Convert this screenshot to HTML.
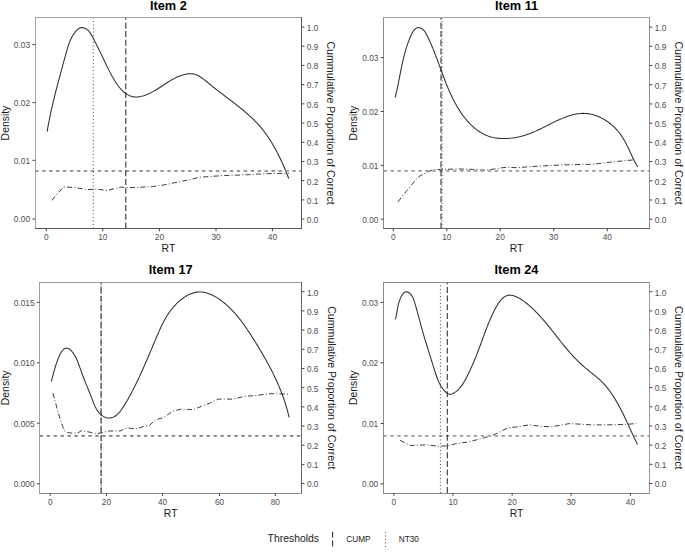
<!DOCTYPE html>
<html><head><meta charset="utf-8"><title>RT density plots</title>
<style>
html,body{margin:0;padding:0;background:#fff;width:685px;height:552px;overflow:hidden}
svg text{font-family:"Liberation Sans", sans-serif}
</style></head>
<body>
<svg width="685" height="552" viewBox="0 0 685 552" style="display:block">
<rect width="685" height="552" fill="#fff"/>
<path d="M47.16,131.55 L47.40,130.14 L47.64,128.74 L47.88,127.34 L48.14,125.94 L48.39,124.54 L48.65,123.15 L48.92,121.76 L49.19,120.37 L49.47,118.98 L49.75,117.60 L50.03,116.21 L50.32,114.83 L50.61,113.45 L50.91,112.08 L51.21,110.70 L51.51,109.33 L51.82,107.96 L52.13,106.59 L52.44,105.22 L52.76,103.85 L53.08,102.49 L53.41,101.12 L53.73,99.76 L54.07,98.40 L54.40,97.04 L54.74,95.68 L55.07,94.32 L55.42,92.96 L55.76,91.60 L56.11,90.24 L56.46,88.89 L56.81,87.53 L57.16,86.17 L57.52,84.81 L57.87,83.46 L58.23,82.10 L58.59,80.74 L58.96,79.39 L59.32,78.03 L59.69,76.67 L60.05,75.31 L60.42,73.96 L60.79,72.60 L61.16,71.24 L61.53,69.88 L61.90,68.52 L62.28,67.15 L62.65,65.79 L63.02,64.42 L63.40,63.06 L63.77,61.69 L64.15,60.32 L64.52,58.95 L64.90,57.58 L65.27,56.21 L65.65,54.83 L66.03,53.46 L66.40,52.08 L66.78,50.70 L67.18,49.33 L67.58,47.96 L68.00,46.60 L68.44,45.25 L68.90,43.91 L69.39,42.59 L69.90,41.28 L70.45,39.99 L71.04,38.71 L71.66,37.46 L72.33,36.24 L73.05,35.03 L73.81,33.86 L74.63,32.71 L75.50,31.60 L76.44,30.53 L77.44,29.55 L78.50,28.70 L79.63,28.05 L80.83,27.64 L82.09,27.53 L83.40,27.72 L84.70,28.16 L85.93,28.78 L87.06,29.56 L88.10,30.48 L89.06,31.51 L89.95,32.63 L90.78,33.84 L91.56,35.11 L92.30,36.43 L93.01,37.77 L93.69,39.12 L94.37,40.46 L95.03,41.78 L95.70,43.09 L96.35,44.38 L97.00,45.65 L97.64,46.92 L98.27,48.17 L98.89,49.42 L99.51,50.66 L100.11,51.90 L100.71,53.13 L101.30,54.36 L101.88,55.59 L102.47,56.82 L103.04,58.04 L103.62,59.27 L104.20,60.49 L104.78,61.72 L105.36,62.95 L105.95,64.18 L106.54,65.41 L107.14,66.64 L107.75,67.88 L108.37,69.12 L109.00,70.37 L109.65,71.62 L110.31,72.88 L110.98,74.15 L111.67,75.42 L112.38,76.70 L113.11,77.98 L113.86,79.26 L114.63,80.54 L115.43,81.80 L116.24,83.04 L117.08,84.26 L117.94,85.46 L118.82,86.62 L119.73,87.75 L120.66,88.84 L121.62,89.88 L122.61,90.87 L123.62,91.80 L124.66,92.67 L125.73,93.48 L126.83,94.21 L127.96,94.87 L129.12,95.45 L130.31,95.94 L131.53,96.35 L132.79,96.66 L134.08,96.87 L135.40,96.97 L136.76,96.97 L138.14,96.87 L139.54,96.68 L140.96,96.40 L142.39,96.05 L143.82,95.63 L145.24,95.15 L146.66,94.61 L148.06,94.03 L149.44,93.42 L150.79,92.77 L152.10,92.10 L153.38,91.41 L154.63,90.71 L155.86,90.00 L157.05,89.27 L158.23,88.53 L159.39,87.79 L160.54,87.04 L161.67,86.29 L162.80,85.53 L163.93,84.78 L165.06,84.03 L166.19,83.28 L167.33,82.54 L168.48,81.81 L169.64,81.09 L170.82,80.38 L172.02,79.68 L173.25,79.01 L174.51,78.35 L175.80,77.71 L177.12,77.10 L178.46,76.52 L179.83,75.97 L181.21,75.48 L182.60,75.03 L184.00,74.64 L185.40,74.31 L186.80,74.06 L188.18,73.88 L189.56,73.78 L190.92,73.78 L192.26,73.87 L193.57,74.06 L194.86,74.35 L196.11,74.75 L197.33,75.25 L198.53,75.83 L199.71,76.49 L200.86,77.22 L202.01,78.00 L203.14,78.83 L204.25,79.70 L205.37,80.59 L206.48,81.51 L207.58,82.43 L208.69,83.36 L209.81,84.28 L210.93,85.19 L212.05,86.10 L213.17,87.00 L214.30,87.89 L215.43,88.78 L216.57,89.66 L217.70,90.54 L218.84,91.42 L219.98,92.29 L221.12,93.16 L222.26,94.02 L223.40,94.88 L224.54,95.75 L225.67,96.61 L226.81,97.46 L227.95,98.32 L229.08,99.18 L230.21,100.04 L231.34,100.90 L232.47,101.76 L233.59,102.62 L234.71,103.49 L235.83,104.35 L236.94,105.22 L238.05,106.09 L239.15,106.97 L240.25,107.85 L241.34,108.73 L242.42,109.62 L243.50,110.52 L244.57,111.42 L245.64,112.33 L246.69,113.24 L247.74,114.16 L248.78,115.09 L249.81,116.03 L250.83,116.98 L251.85,117.93 L252.85,118.90 L253.84,119.87 L254.82,120.85 L255.79,121.85 L256.75,122.85 L257.70,123.87 L258.64,124.90 L259.56,125.94 L260.47,126.99 L261.37,128.06 L262.25,129.14 L263.12,130.23 L263.98,131.34 L264.83,132.46 L265.66,133.58 L266.48,134.72 L267.29,135.87 L268.09,137.04 L268.87,138.21 L269.65,139.39 L270.41,140.58 L271.16,141.77 L271.90,142.98 L272.63,144.20 L273.34,145.42 L274.05,146.65 L274.75,147.88 L275.43,149.13 L276.11,150.37 L276.77,151.63 L277.43,152.89 L278.08,154.15 L278.71,155.42 L279.34,156.69 L279.96,157.97 L280.57,159.25 L281.17,160.53 L281.76,161.82 L282.34,163.11 L282.92,164.40 L283.48,165.69 L284.04,166.98 L284.59,168.27 L285.14,169.56 L285.67,170.85 L286.20,172.14 L286.72,173.43 L287.24,174.72 L287.75,176.01 L288.25,177.29 L288.74,178.58" fill="none" stroke="#2e2e2e" stroke-width="1.05" stroke-linejoin="round"/>
<path d="M51.80,200.40 L57.50,193.60 L63.60,187.00 L69.00,187.20 L75.50,187.60 L81.00,188.60 L87.30,189.60 L92.00,189.30 L97.20,189.00 L102.00,189.80 L107.00,190.50 L114.00,188.80 L120.80,187.20 L126.50,187.40 L132.60,187.60 L142.00,187.10 L152.30,186.60 L158.50,185.60 L165.00,184.80 L171.00,183.50 L177.80,182.00 L183.00,181.00 L188.50,179.90 L194.00,178.60 L199.20,177.30 L210.00,176.50 L222.70,175.60 L235.00,175.20 L246.20,174.80 L256.00,174.20 L265.40,173.70 L277.00,173.50 L289.00,173.30" stroke-linejoin="round" fill="none" stroke="#333" stroke-width="0.95" stroke-dasharray="5.2 2.2 1 2.2"/>
<line x1="35.2" y1="171.0" x2="301.6" y2="171.0" stroke="#9a9a9a" stroke-width="1.8" stroke-dasharray="3.4 3.55"/>
<line x1="93.3" y1="228.5" x2="93.3" y2="17.6" stroke="#333" stroke-width="0.9" stroke-dasharray="1 2.5"/>
<line x1="125.8" y1="228.5" x2="125.8" y2="17.6" stroke="#2a2a2a" stroke-width="1.05" stroke-dasharray="6 2.7"/>
<line x1="35.5" y1="17" x2="35.5" y2="229" stroke="#a3a3a3" stroke-width="1"/>
<line x1="35" y1="17.5" x2="302" y2="17.5" stroke="#a5a5a5" stroke-width="1"/>
<line x1="301.5" y1="17" x2="301.5" y2="229" stroke="#585858" stroke-width="1"/>
<line x1="35" y1="228.5" x2="302" y2="228.5" stroke="#565656" stroke-width="1"/>
<line x1="46.3" y1="228.5" x2="46.3" y2="231.3" stroke="#3a3a3a" stroke-width="0.95"/>
<text transform="translate(46.3,239.70) scale(1,1.04)" text-anchor="middle" font-size="8.3" fill="#4d4d4d">0</text>
<line x1="102.8" y1="228.5" x2="102.8" y2="231.3" stroke="#3a3a3a" stroke-width="0.95"/>
<text transform="translate(102.8,239.70) scale(1,1.04)" text-anchor="middle" font-size="8.3" fill="#4d4d4d">10</text>
<line x1="159.4" y1="228.5" x2="159.4" y2="231.3" stroke="#3a3a3a" stroke-width="0.95"/>
<text transform="translate(159.4,239.70) scale(1,1.04)" text-anchor="middle" font-size="8.3" fill="#4d4d4d">20</text>
<line x1="216.0" y1="228.5" x2="216.0" y2="231.3" stroke="#3a3a3a" stroke-width="0.95"/>
<text transform="translate(216.0,239.70) scale(1,1.04)" text-anchor="middle" font-size="8.3" fill="#4d4d4d">30</text>
<line x1="272.4" y1="228.5" x2="272.4" y2="231.3" stroke="#3a3a3a" stroke-width="0.95"/>
<text transform="translate(272.4,239.70) scale(1,1.04)" text-anchor="middle" font-size="8.3" fill="#4d4d4d">40</text>
<line x1="32.400000000000006" y1="219.0" x2="35.2" y2="219.0" stroke="#3a3a3a" stroke-width="0.95"/>
<text transform="translate(30.00,222.35) scale(1,1.06)" text-anchor="end" font-size="8.3" fill="#4d4d4d">0.00</text>
<line x1="32.400000000000006" y1="160.3" x2="35.2" y2="160.3" stroke="#3a3a3a" stroke-width="0.95"/>
<text transform="translate(30.00,163.65) scale(1,1.06)" text-anchor="end" font-size="8.3" fill="#4d4d4d">0.01</text>
<line x1="32.400000000000006" y1="102.6" x2="35.2" y2="102.6" stroke="#3a3a3a" stroke-width="0.95"/>
<text transform="translate(30.00,105.95) scale(1,1.06)" text-anchor="end" font-size="8.3" fill="#4d4d4d">0.02</text>
<line x1="32.400000000000006" y1="44.6" x2="35.2" y2="44.6" stroke="#3a3a3a" stroke-width="0.95"/>
<text transform="translate(30.00,47.95) scale(1,1.06)" text-anchor="end" font-size="8.3" fill="#4d4d4d">0.03</text>
<line x1="301.6" y1="219.10" x2="304.40000000000003" y2="219.10" stroke="#3a3a3a" stroke-width="0.95"/>
<text transform="translate(306.80,222.95) scale(1,1.06)" font-size="8.3" fill="#4d4d4d">0.0</text>
<line x1="301.6" y1="199.89" x2="304.40000000000003" y2="199.89" stroke="#3a3a3a" stroke-width="0.95"/>
<text transform="translate(306.80,203.74) scale(1,1.06)" font-size="8.3" fill="#4d4d4d">0.1</text>
<line x1="301.6" y1="180.68" x2="304.40000000000003" y2="180.68" stroke="#3a3a3a" stroke-width="0.95"/>
<text transform="translate(306.80,184.53) scale(1,1.06)" font-size="8.3" fill="#4d4d4d">0.2</text>
<line x1="301.6" y1="161.47" x2="304.40000000000003" y2="161.47" stroke="#3a3a3a" stroke-width="0.95"/>
<text transform="translate(306.80,165.32) scale(1,1.06)" font-size="8.3" fill="#4d4d4d">0.3</text>
<line x1="301.6" y1="142.26" x2="304.40000000000003" y2="142.26" stroke="#3a3a3a" stroke-width="0.95"/>
<text transform="translate(306.80,146.11) scale(1,1.06)" font-size="8.3" fill="#4d4d4d">0.4</text>
<line x1="301.6" y1="123.05" x2="304.40000000000003" y2="123.05" stroke="#3a3a3a" stroke-width="0.95"/>
<text transform="translate(306.80,126.90) scale(1,1.06)" font-size="8.3" fill="#4d4d4d">0.5</text>
<line x1="301.6" y1="103.84" x2="304.40000000000003" y2="103.84" stroke="#3a3a3a" stroke-width="0.95"/>
<text transform="translate(306.80,107.69) scale(1,1.06)" font-size="8.3" fill="#4d4d4d">0.6</text>
<line x1="301.6" y1="84.63" x2="304.40000000000003" y2="84.63" stroke="#3a3a3a" stroke-width="0.95"/>
<text transform="translate(306.80,88.48) scale(1,1.06)" font-size="8.3" fill="#4d4d4d">0.7</text>
<line x1="301.6" y1="65.42" x2="304.40000000000003" y2="65.42" stroke="#3a3a3a" stroke-width="0.95"/>
<text transform="translate(306.80,69.27) scale(1,1.06)" font-size="8.3" fill="#4d4d4d">0.8</text>
<line x1="301.6" y1="46.21" x2="304.40000000000003" y2="46.21" stroke="#3a3a3a" stroke-width="0.95"/>
<text transform="translate(306.80,50.06) scale(1,1.06)" font-size="8.3" fill="#4d4d4d">0.9</text>
<line x1="301.6" y1="27.00" x2="304.40000000000003" y2="27.00" stroke="#3a3a3a" stroke-width="0.95"/>
<text transform="translate(306.80,30.85) scale(1,1.06)" font-size="8.3" fill="#4d4d4d">1.0</text>
<text x="168.40" y="9.50" text-anchor="middle" font-size="12.75" font-weight="bold" fill="#000">Item 2</text>
<text x="168.40" y="252.30" text-anchor="middle" font-size="10.4" fill="#1a1a1a">RT</text>
<text transform="translate(8.60,123.05) rotate(-90)" text-anchor="middle" font-size="10.4" fill="#1a1a1a">Density</text>
<text transform="translate(327.40,123.05) rotate(90)" text-anchor="middle" font-size="10.62" fill="#1a1a1a">Cummulative Proportion of Correct</text>
<path d="M395.19,97.29 L395.52,95.99 L395.84,94.69 L396.15,93.40 L396.44,92.12 L396.73,90.84 L397.02,89.57 L397.29,88.30 L397.56,87.03 L397.82,85.77 L398.08,84.51 L398.34,83.26 L398.59,82.01 L398.83,80.76 L399.08,79.52 L399.32,78.28 L399.56,77.04 L399.80,75.80 L400.03,74.57 L400.27,73.33 L400.51,72.10 L400.76,70.87 L401.00,69.64 L401.25,68.41 L401.50,67.19 L401.75,65.96 L402.01,64.73 L402.28,63.50 L402.55,62.28 L402.82,61.05 L403.11,59.82 L403.40,58.59 L403.70,57.35 L404.01,56.12 L404.33,54.89 L404.66,53.65 L405.00,52.41 L405.36,51.17 L405.72,49.92 L406.10,48.67 L406.49,47.42 L406.89,46.16 L407.31,44.91 L407.75,43.64 L408.20,42.38 L408.67,41.10 L409.15,39.83 L409.66,38.55 L410.18,37.26 L410.72,35.97 L411.28,34.70 L411.88,33.46 L412.51,32.29 L413.18,31.20 L413.90,30.21 L414.68,29.35 L415.51,28.65 L416.41,28.11 L417.37,27.77 L418.36,27.63 L419.38,27.70 L420.40,27.96 L421.40,28.41 L422.37,29.02 L423.29,29.79 L424.13,30.68 L424.90,31.69 L425.60,32.78 L426.26,33.94 L426.87,35.14 L427.47,36.35 L428.05,37.56 L428.62,38.77 L429.19,39.97 L429.74,41.18 L430.28,42.38 L430.81,43.59 L431.33,44.79 L431.84,45.99 L432.35,47.19 L432.85,48.39 L433.34,49.59 L433.82,50.79 L434.29,51.99 L434.76,53.19 L435.23,54.38 L435.69,55.58 L436.14,56.77 L436.59,57.97 L437.04,59.16 L437.48,60.35 L437.92,61.54 L438.36,62.73 L438.80,63.92 L439.23,65.11 L439.67,66.30 L440.10,67.49 L440.53,68.68 L440.96,69.86 L441.40,71.05 L441.83,72.24 L442.27,73.42 L442.71,74.61 L443.15,75.79 L443.59,76.97 L444.04,78.16 L444.49,79.34 L444.95,80.52 L445.41,81.70 L445.88,82.89 L446.35,84.07 L446.83,85.25 L447.31,86.43 L447.80,87.61 L448.30,88.79 L448.81,89.97 L449.32,91.15 L449.85,92.33 L450.38,93.50 L450.92,94.68 L451.48,95.85 L452.04,97.03 L452.61,98.19 L453.19,99.36 L453.79,100.52 L454.39,101.67 L455.00,102.82 L455.63,103.96 L456.26,105.10 L456.91,106.22 L457.57,107.34 L458.24,108.46 L458.93,109.56 L459.62,110.65 L460.33,111.73 L461.05,112.80 L461.79,113.86 L462.54,114.91 L463.30,115.95 L464.08,116.97 L464.87,117.98 L465.67,118.97 L466.49,119.95 L467.32,120.92 L468.17,121.86 L469.04,122.80 L469.91,123.71 L470.81,124.61 L471.72,125.48 L472.65,126.34 L473.59,127.18 L474.55,128.00 L475.53,128.79 L476.52,129.56 L477.53,130.30 L478.55,131.02 L479.60,131.71 L480.66,132.38 L481.73,133.01 L482.83,133.61 L483.94,134.18 L485.07,134.72 L486.22,135.23 L487.38,135.70 L488.57,136.13 L489.77,136.53 L490.99,136.89 L492.22,137.21 L493.48,137.49 L494.74,137.74 L496.02,137.95 L497.31,138.13 L498.61,138.28 L499.92,138.39 L501.23,138.47 L502.55,138.53 L503.87,138.55 L505.19,138.54 L506.52,138.50 L507.84,138.44 L509.16,138.35 L510.47,138.23 L511.79,138.09 L513.09,137.92 L514.38,137.73 L515.67,137.52 L516.94,137.29 L518.20,137.03 L519.45,136.76 L520.68,136.47 L521.90,136.15 L523.10,135.82 L524.29,135.47 L525.47,135.11 L526.64,134.73 L527.79,134.33 L528.95,133.91 L530.09,133.48 L531.23,133.03 L532.36,132.57 L533.50,132.10 L534.63,131.61 L535.75,131.11 L536.88,130.60 L538.01,130.07 L539.15,129.53 L540.29,128.98 L541.43,128.42 L542.58,127.86 L543.73,127.28 L544.89,126.69 L546.05,126.10 L547.22,125.51 L548.39,124.91 L549.57,124.32 L550.75,123.72 L551.93,123.13 L553.12,122.54 L554.32,121.95 L555.51,121.37 L556.71,120.80 L557.92,120.24 L559.12,119.69 L560.33,119.16 L561.55,118.64 L562.76,118.13 L563.98,117.64 L565.20,117.17 L566.42,116.72 L567.64,116.29 L568.87,115.89 L570.10,115.51 L571.32,115.15 L572.55,114.82 L573.78,114.53 L575.02,114.26 L576.25,114.03 L577.48,113.83 L578.72,113.66 L579.95,113.53 L581.19,113.44 L582.42,113.39 L583.65,113.38 L584.89,113.42 L586.12,113.49 L587.35,113.61 L588.58,113.78 L589.81,113.98 L591.03,114.23 L592.25,114.51 L593.46,114.84 L594.67,115.20 L595.87,115.60 L597.06,116.03 L598.24,116.51 L599.41,117.01 L600.57,117.55 L601.72,118.12 L602.86,118.73 L603.98,119.36 L605.09,120.03 L606.19,120.72 L607.27,121.44 L608.33,122.19 L609.38,122.97 L610.40,123.77 L611.41,124.60 L612.40,125.45 L613.37,126.32 L614.31,127.22 L615.24,128.14 L616.14,129.08 L617.01,130.03 L617.87,131.01 L618.69,132.00 L619.49,133.01 L620.26,134.04 L621.01,135.08 L621.73,136.14 L622.42,137.20 L623.10,138.28 L623.75,139.38 L624.39,140.48 L625.00,141.59 L625.61,142.71 L626.20,143.84 L626.77,144.98 L627.34,146.12 L627.90,147.27 L628.45,148.42 L629.00,149.58 L629.54,150.74 L630.08,151.90 L630.62,153.06 L631.16,154.22 L631.70,155.38 L632.25,156.54 L632.80,157.69 L633.36,158.85 L633.93,159.99 L634.52,161.13 L635.11,162.27 L635.72,163.40 L636.34,164.52 L636.99,165.63 L637.65,166.73" fill="none" stroke="#2e2e2e" stroke-width="1.05" stroke-linejoin="round"/>
<path d="M398.00,201.90 L402.00,196.50 L406.50,191.20 L411.00,185.70 L415.00,180.50 L419.00,176.60 L423.60,173.70 L428.00,171.60 L432.10,170.20 L436.00,169.60 L440.70,169.40 L449.00,169.20 L457.80,169.00 L465.00,169.10 L472.70,169.40 L479.00,169.90 L485.50,170.20 L491.00,169.50 L496.20,168.70 L501.50,167.80 L506.90,167.30 L512.00,167.50 L518.00,167.70 L527.00,166.90 L538.20,166.10 L550.00,165.50 L561.40,165.00 L576.00,164.60 L591.50,164.30 L602.00,163.20 L612.40,161.90 L624.00,160.80 L634.50,159.80" stroke-linejoin="round" fill="none" stroke="#333" stroke-width="0.95" stroke-dasharray="5.2 2.2 1 2.2"/>
<line x1="383.6" y1="170.9" x2="649.6" y2="170.9" stroke="#9a9a9a" stroke-width="1.8" stroke-dasharray="3.4 3.55"/>
<line x1="442.1" y1="228.5" x2="442.1" y2="17.6" stroke="#333" stroke-width="0.9" stroke-dasharray="1 2.5"/>
<line x1="441.0" y1="228.5" x2="441.0" y2="17.6" stroke="#2a2a2a" stroke-width="1.05" stroke-dasharray="6 2.7"/>
<line x1="383.5" y1="17" x2="383.5" y2="229" stroke="#8a8a8a" stroke-width="1"/>
<line x1="383" y1="17.5" x2="650" y2="17.5" stroke="#a3a3a3" stroke-width="1"/>
<line x1="649.5" y1="17" x2="649.5" y2="229" stroke="#8c8c8c" stroke-width="1"/>
<line x1="383" y1="228.5" x2="650" y2="228.5" stroke="#666666" stroke-width="1"/>
<line x1="393.3" y1="228.5" x2="393.3" y2="231.3" stroke="#3a3a3a" stroke-width="0.95"/>
<text transform="translate(393.3,239.70) scale(1,1.04)" text-anchor="middle" font-size="8.3" fill="#4d4d4d">0</text>
<line x1="446.8" y1="228.5" x2="446.8" y2="231.3" stroke="#3a3a3a" stroke-width="0.95"/>
<text transform="translate(446.8,239.70) scale(1,1.04)" text-anchor="middle" font-size="8.3" fill="#4d4d4d">10</text>
<line x1="500.2" y1="228.5" x2="500.2" y2="231.3" stroke="#3a3a3a" stroke-width="0.95"/>
<text transform="translate(500.2,239.70) scale(1,1.04)" text-anchor="middle" font-size="8.3" fill="#4d4d4d">20</text>
<line x1="553.7" y1="228.5" x2="553.7" y2="231.3" stroke="#3a3a3a" stroke-width="0.95"/>
<text transform="translate(553.7,239.70) scale(1,1.04)" text-anchor="middle" font-size="8.3" fill="#4d4d4d">30</text>
<line x1="607.3" y1="228.5" x2="607.3" y2="231.3" stroke="#3a3a3a" stroke-width="0.95"/>
<text transform="translate(607.3,239.70) scale(1,1.04)" text-anchor="middle" font-size="8.3" fill="#4d4d4d">40</text>
<line x1="380.8" y1="219.2" x2="383.6" y2="219.2" stroke="#3a3a3a" stroke-width="0.95"/>
<text transform="translate(378.40,222.55) scale(1,1.06)" text-anchor="end" font-size="8.3" fill="#4d4d4d">0.00</text>
<line x1="380.8" y1="165.4" x2="383.6" y2="165.4" stroke="#3a3a3a" stroke-width="0.95"/>
<text transform="translate(378.40,168.75) scale(1,1.06)" text-anchor="end" font-size="8.3" fill="#4d4d4d">0.01</text>
<line x1="380.8" y1="111.5" x2="383.6" y2="111.5" stroke="#3a3a3a" stroke-width="0.95"/>
<text transform="translate(378.40,114.85) scale(1,1.06)" text-anchor="end" font-size="8.3" fill="#4d4d4d">0.02</text>
<line x1="380.8" y1="57.6" x2="383.6" y2="57.6" stroke="#3a3a3a" stroke-width="0.95"/>
<text transform="translate(378.40,60.95) scale(1,1.06)" text-anchor="end" font-size="8.3" fill="#4d4d4d">0.03</text>
<line x1="649.6" y1="219.20" x2="652.4" y2="219.20" stroke="#3a3a3a" stroke-width="0.95"/>
<text transform="translate(654.80,223.05) scale(1,1.06)" font-size="8.3" fill="#4d4d4d">0.0</text>
<line x1="649.6" y1="199.99" x2="652.4" y2="199.99" stroke="#3a3a3a" stroke-width="0.95"/>
<text transform="translate(654.80,203.84) scale(1,1.06)" font-size="8.3" fill="#4d4d4d">0.1</text>
<line x1="649.6" y1="180.78" x2="652.4" y2="180.78" stroke="#3a3a3a" stroke-width="0.95"/>
<text transform="translate(654.80,184.63) scale(1,1.06)" font-size="8.3" fill="#4d4d4d">0.2</text>
<line x1="649.6" y1="161.57" x2="652.4" y2="161.57" stroke="#3a3a3a" stroke-width="0.95"/>
<text transform="translate(654.80,165.42) scale(1,1.06)" font-size="8.3" fill="#4d4d4d">0.3</text>
<line x1="649.6" y1="142.36" x2="652.4" y2="142.36" stroke="#3a3a3a" stroke-width="0.95"/>
<text transform="translate(654.80,146.21) scale(1,1.06)" font-size="8.3" fill="#4d4d4d">0.4</text>
<line x1="649.6" y1="123.15" x2="652.4" y2="123.15" stroke="#3a3a3a" stroke-width="0.95"/>
<text transform="translate(654.80,127.00) scale(1,1.06)" font-size="8.3" fill="#4d4d4d">0.5</text>
<line x1="649.6" y1="103.94" x2="652.4" y2="103.94" stroke="#3a3a3a" stroke-width="0.95"/>
<text transform="translate(654.80,107.79) scale(1,1.06)" font-size="8.3" fill="#4d4d4d">0.6</text>
<line x1="649.6" y1="84.73" x2="652.4" y2="84.73" stroke="#3a3a3a" stroke-width="0.95"/>
<text transform="translate(654.80,88.58) scale(1,1.06)" font-size="8.3" fill="#4d4d4d">0.7</text>
<line x1="649.6" y1="65.52" x2="652.4" y2="65.52" stroke="#3a3a3a" stroke-width="0.95"/>
<text transform="translate(654.80,69.37) scale(1,1.06)" font-size="8.3" fill="#4d4d4d">0.8</text>
<line x1="649.6" y1="46.31" x2="652.4" y2="46.31" stroke="#3a3a3a" stroke-width="0.95"/>
<text transform="translate(654.80,50.16) scale(1,1.06)" font-size="8.3" fill="#4d4d4d">0.9</text>
<line x1="649.6" y1="27.10" x2="652.4" y2="27.10" stroke="#3a3a3a" stroke-width="0.95"/>
<text transform="translate(654.80,30.95) scale(1,1.06)" font-size="8.3" fill="#4d4d4d">1.0</text>
<text x="516.60" y="9.50" text-anchor="middle" font-size="12.75" font-weight="bold" fill="#000">Item 11</text>
<text x="516.60" y="252.30" text-anchor="middle" font-size="10.4" fill="#1a1a1a">RT</text>
<text transform="translate(356.70,123.05) rotate(-90)" text-anchor="middle" font-size="10.4" fill="#1a1a1a">Density</text>
<text transform="translate(675.40,123.05) rotate(90)" text-anchor="middle" font-size="10.62" fill="#1a1a1a">Cummulative Proportion of Correct</text>
<path d="M51.33,381.54 L51.73,380.06 L52.11,378.62 L52.48,377.21 L52.84,375.84 L53.19,374.50 L53.53,373.18 L53.88,371.88 L54.23,370.58 L54.59,369.30 L54.96,368.02 L55.34,366.73 L55.75,365.44 L56.17,364.13 L56.62,362.81 L57.10,361.46 L57.62,360.09 L58.17,358.68 L58.76,357.23 L59.39,355.77 L60.07,354.32 L60.80,352.93 L61.58,351.65 L62.42,350.50 L63.32,349.54 L64.27,348.81 L65.29,348.35 L66.37,348.18 L67.48,348.30 L68.59,348.68 L69.66,349.32 L70.68,350.17 L71.65,351.17 L72.55,352.27 L73.39,353.41 L74.18,354.59 L74.91,355.81 L75.60,357.07 L76.25,358.35 L76.85,359.66 L77.43,360.99 L77.98,362.34 L78.50,363.70 L79.00,365.07 L79.49,366.45 L79.97,367.82 L80.44,369.19 L80.91,370.56 L81.39,371.91 L81.87,373.25 L82.36,374.58 L82.85,375.89 L83.35,377.19 L83.85,378.49 L84.36,379.77 L84.87,381.05 L85.38,382.33 L85.90,383.60 L86.42,384.87 L86.94,386.14 L87.46,387.42 L87.98,388.69 L88.51,389.97 L89.03,391.26 L89.55,392.55 L90.07,393.85 L90.58,395.17 L91.10,396.49 L91.61,397.83 L92.12,399.18 L92.63,400.54 L93.16,401.90 L93.70,403.25 L94.26,404.59 L94.85,405.91 L95.48,407.20 L96.15,408.47 L96.88,409.69 L97.65,410.87 L98.49,412.00 L99.40,413.07 L100.38,414.08 L101.44,415.01 L102.58,415.86 L103.79,416.61 L105.05,417.22 L106.36,417.68 L107.70,417.96 L109.06,418.04 L110.42,417.91 L111.74,417.62 L113.01,417.19 L114.21,416.64 L115.35,415.98 L116.42,415.21 L117.45,414.36 L118.42,413.42 L119.35,412.42 L120.23,411.34 L121.09,410.22 L121.91,409.06 L122.71,407.86 L123.49,406.63 L124.25,405.40 L125.01,404.16 L125.75,402.91 L126.48,401.67 L127.21,400.42 L127.93,399.17 L128.63,397.92 L129.33,396.66 L130.03,395.41 L130.71,394.15 L131.39,392.89 L132.05,391.63 L132.72,390.36 L133.37,389.10 L134.02,387.83 L134.66,386.57 L135.30,385.30 L135.92,384.02 L136.55,382.75 L137.16,381.48 L137.78,380.20 L138.38,378.93 L138.98,377.65 L139.58,376.37 L140.17,375.09 L140.76,373.81 L141.34,372.53 L141.92,371.25 L142.50,369.97 L143.07,368.68 L143.64,367.40 L144.20,366.11 L144.76,364.83 L145.32,363.54 L145.88,362.25 L146.43,360.97 L146.99,359.68 L147.54,358.39 L148.08,357.10 L148.63,355.82 L149.18,354.53 L149.72,353.24 L150.27,351.95 L150.81,350.66 L151.35,349.37 L151.89,348.09 L152.44,346.80 L152.98,345.51 L153.52,344.22 L154.07,342.94 L154.61,341.65 L155.16,340.36 L155.70,339.08 L156.25,337.79 L156.80,336.51 L157.35,335.22 L157.91,333.94 L158.47,332.66 L159.03,331.38 L159.60,330.11 L160.18,328.83 L160.76,327.57 L161.36,326.30 L161.96,325.04 L162.58,323.79 L163.22,322.54 L163.87,321.31 L164.53,320.07 L165.21,318.85 L165.91,317.64 L166.64,316.43 L167.38,315.24 L168.14,314.06 L168.93,312.89 L169.74,311.73 L170.58,310.58 L171.45,309.45 L172.35,308.33 L173.27,307.22 L174.23,306.13 L175.22,305.06 L176.24,304.00 L177.29,302.96 L178.38,301.95 L179.49,300.96 L180.63,300.01 L181.79,299.09 L182.98,298.21 L184.19,297.37 L185.41,296.57 L186.66,295.83 L187.91,295.14 L189.19,294.51 L190.47,293.94 L191.77,293.43 L193.07,293.00 L194.38,292.63 L195.70,292.34 L197.01,292.13 L198.33,292.01 L199.65,291.96 L200.97,291.99 L202.29,292.10 L203.60,292.28 L204.91,292.53 L206.21,292.85 L207.51,293.22 L208.81,293.66 L210.09,294.15 L211.37,294.70 L212.63,295.29 L213.89,295.93 L215.14,296.62 L216.37,297.34 L217.59,298.10 L218.80,298.90 L219.99,299.72 L221.16,300.58 L222.32,301.45 L223.46,302.35 L224.58,303.27 L225.68,304.20 L226.77,305.15 L227.83,306.11 L228.88,307.08 L229.91,308.06 L230.92,309.06 L231.91,310.07 L232.89,311.10 L233.85,312.13 L234.80,313.18 L235.74,314.23 L236.66,315.30 L237.56,316.38 L238.45,317.46 L239.34,318.56 L240.20,319.66 L241.06,320.78 L241.91,321.90 L242.75,323.02 L243.57,324.16 L244.39,325.30 L245.20,326.45 L246.00,327.60 L246.79,328.76 L247.58,329.93 L248.36,331.10 L249.13,332.27 L249.90,333.45 L250.66,334.63 L251.42,335.82 L252.17,337.01 L252.92,338.20 L253.67,339.39 L254.42,340.59 L255.16,341.78 L255.90,342.98 L256.64,344.18 L257.38,345.38 L258.11,346.58 L258.84,347.79 L259.56,349.00 L260.29,350.20 L261.01,351.42 L261.72,352.63 L262.43,353.84 L263.14,355.06 L263.84,356.28 L264.54,357.50 L265.24,358.73 L265.93,359.95 L266.61,361.18 L267.29,362.41 L267.97,363.65 L268.63,364.88 L269.30,366.12 L269.96,367.37 L270.61,368.61 L271.25,369.86 L271.89,371.11 L272.53,372.37 L273.15,373.62 L273.77,374.88 L274.39,376.15 L274.99,377.41 L275.59,378.68 L276.18,379.96 L276.76,381.24 L277.34,382.52 L277.91,383.80 L278.47,385.09 L279.02,386.38 L279.56,387.68 L280.10,388.98 L280.62,390.28 L281.14,391.59 L281.65,392.90 L282.15,394.21 L282.64,395.53 L283.12,396.86 L283.59,398.19 L284.05,399.52 L284.50,400.86 L284.94,402.20 L285.37,403.54 L285.79,404.89 L286.20,406.25 L286.59,407.61 L286.98,408.97 L287.35,410.34 L287.72,411.71 L288.07,413.09 L288.41,414.48 L288.74,415.87 L289.06,417.26" fill="none" stroke="#2e2e2e" stroke-width="1.05" stroke-linejoin="round"/>
<path d="M52.90,393.20 L54.50,399.00 L56.10,404.90 L58.20,412.50 L60.40,419.90 L62.50,426.00 L64.60,431.00 L67.50,432.50 L71.00,433.10 L77.50,433.10 L81.70,430.50 L86.00,431.40 L90.30,432.30 L96.70,433.70 L103.10,432.30 L109.50,431.00 L115.00,431.00 L120.20,431.00 L126.60,428.00 L132.00,428.40 L137.30,428.80 L143.70,426.30 L149.00,425.80 L155.40,419.90 L162.90,417.70 L168.00,414.50 L172.30,411.30 L180.80,409.20 L193.60,409.60 L202.20,406.00 L210.70,402.80 L218.20,399.10 L232.10,399.10 L244.90,396.40 L257.70,395.30 L270.50,393.60 L280.00,393.90 L289.80,394.20" stroke-linejoin="round" fill="none" stroke="#333" stroke-width="0.95" stroke-dasharray="5.2 2.2 1 2.2"/>
<line x1="39.7" y1="435.9" x2="301.7" y2="435.9" stroke="#7e7e7e" stroke-width="1.8" stroke-dasharray="3.4 3.55"/>
<line x1="101.1" y1="493.2" x2="101.1" y2="282.5" stroke="#333" stroke-width="0.9" stroke-dasharray="1 2.5"/>
<line x1="101.1" y1="493.2" x2="101.1" y2="282.5" stroke="#2a2a2a" stroke-width="1.05" stroke-dasharray="6 2.7"/>
<line x1="39.5" y1="282" x2="39.5" y2="494" stroke="#a0a0a0" stroke-width="1"/>
<line x1="39" y1="282.5" x2="302" y2="282.5" stroke="#999999" stroke-width="1"/>
<line x1="301.5" y1="282" x2="301.5" y2="494" stroke="#666666" stroke-width="1"/>
<line x1="39" y1="493.5" x2="302" y2="493.5" stroke="#909090" stroke-width="1"/>
<line x1="50.2" y1="493.2" x2="50.2" y2="496.0" stroke="#3a3a3a" stroke-width="0.95"/>
<text transform="translate(50.2,505.00) scale(1,1.04)" text-anchor="middle" font-size="8.3" fill="#4d4d4d">0</text>
<line x1="106.4" y1="493.2" x2="106.4" y2="496.0" stroke="#3a3a3a" stroke-width="0.95"/>
<text transform="translate(106.4,505.00) scale(1,1.04)" text-anchor="middle" font-size="8.3" fill="#4d4d4d">20</text>
<line x1="162.6" y1="493.2" x2="162.6" y2="496.0" stroke="#3a3a3a" stroke-width="0.95"/>
<text transform="translate(162.6,505.00) scale(1,1.04)" text-anchor="middle" font-size="8.3" fill="#4d4d4d">40</text>
<line x1="219.5" y1="493.2" x2="219.5" y2="496.0" stroke="#3a3a3a" stroke-width="0.95"/>
<text transform="translate(219.5,505.00) scale(1,1.04)" text-anchor="middle" font-size="8.3" fill="#4d4d4d">60</text>
<line x1="275.3" y1="493.2" x2="275.3" y2="496.0" stroke="#3a3a3a" stroke-width="0.95"/>
<text transform="translate(275.3,505.00) scale(1,1.04)" text-anchor="middle" font-size="8.3" fill="#4d4d4d">80</text>
<line x1="36.900000000000006" y1="483.7" x2="39.7" y2="483.7" stroke="#3a3a3a" stroke-width="0.95"/>
<text transform="translate(34.50,487.05) scale(1,1.06)" text-anchor="end" font-size="8.3" fill="#4d4d4d">0.000</text>
<line x1="36.900000000000006" y1="423.2" x2="39.7" y2="423.2" stroke="#3a3a3a" stroke-width="0.95"/>
<text transform="translate(34.50,426.55) scale(1,1.06)" text-anchor="end" font-size="8.3" fill="#4d4d4d">0.005</text>
<line x1="36.900000000000006" y1="362.8" x2="39.7" y2="362.8" stroke="#3a3a3a" stroke-width="0.95"/>
<text transform="translate(34.50,366.15) scale(1,1.06)" text-anchor="end" font-size="8.3" fill="#4d4d4d">0.010</text>
<line x1="36.900000000000006" y1="302.3" x2="39.7" y2="302.3" stroke="#3a3a3a" stroke-width="0.95"/>
<text transform="translate(34.50,305.65) scale(1,1.06)" text-anchor="end" font-size="8.3" fill="#4d4d4d">0.015</text>
<line x1="301.7" y1="483.60" x2="304.5" y2="483.60" stroke="#3a3a3a" stroke-width="0.95"/>
<text transform="translate(306.90,487.45) scale(1,1.06)" font-size="8.3" fill="#4d4d4d">0.0</text>
<line x1="301.7" y1="464.41" x2="304.5" y2="464.41" stroke="#3a3a3a" stroke-width="0.95"/>
<text transform="translate(306.90,468.26) scale(1,1.06)" font-size="8.3" fill="#4d4d4d">0.1</text>
<line x1="301.7" y1="445.22" x2="304.5" y2="445.22" stroke="#3a3a3a" stroke-width="0.95"/>
<text transform="translate(306.90,449.07) scale(1,1.06)" font-size="8.3" fill="#4d4d4d">0.2</text>
<line x1="301.7" y1="426.03" x2="304.5" y2="426.03" stroke="#3a3a3a" stroke-width="0.95"/>
<text transform="translate(306.90,429.88) scale(1,1.06)" font-size="8.3" fill="#4d4d4d">0.3</text>
<line x1="301.7" y1="406.84" x2="304.5" y2="406.84" stroke="#3a3a3a" stroke-width="0.95"/>
<text transform="translate(306.90,410.69) scale(1,1.06)" font-size="8.3" fill="#4d4d4d">0.4</text>
<line x1="301.7" y1="387.65" x2="304.5" y2="387.65" stroke="#3a3a3a" stroke-width="0.95"/>
<text transform="translate(306.90,391.50) scale(1,1.06)" font-size="8.3" fill="#4d4d4d">0.5</text>
<line x1="301.7" y1="368.46" x2="304.5" y2="368.46" stroke="#3a3a3a" stroke-width="0.95"/>
<text transform="translate(306.90,372.31) scale(1,1.06)" font-size="8.3" fill="#4d4d4d">0.6</text>
<line x1="301.7" y1="349.27" x2="304.5" y2="349.27" stroke="#3a3a3a" stroke-width="0.95"/>
<text transform="translate(306.90,353.12) scale(1,1.06)" font-size="8.3" fill="#4d4d4d">0.7</text>
<line x1="301.7" y1="330.08" x2="304.5" y2="330.08" stroke="#3a3a3a" stroke-width="0.95"/>
<text transform="translate(306.90,333.93) scale(1,1.06)" font-size="8.3" fill="#4d4d4d">0.8</text>
<line x1="301.7" y1="310.89" x2="304.5" y2="310.89" stroke="#3a3a3a" stroke-width="0.95"/>
<text transform="translate(306.90,314.74) scale(1,1.06)" font-size="8.3" fill="#4d4d4d">0.9</text>
<line x1="301.7" y1="291.70" x2="304.5" y2="291.70" stroke="#3a3a3a" stroke-width="0.95"/>
<text transform="translate(306.90,295.55) scale(1,1.06)" font-size="8.3" fill="#4d4d4d">1.0</text>
<text x="170.70" y="274.40" text-anchor="middle" font-size="12.75" font-weight="bold" fill="#000">Item 17</text>
<text x="170.70" y="517.00" text-anchor="middle" font-size="10.4" fill="#1a1a1a">RT</text>
<text transform="translate(8.60,387.85) rotate(-90)" text-anchor="middle" font-size="10.4" fill="#1a1a1a">Density</text>
<text transform="translate(327.50,387.85) rotate(90)" text-anchor="middle" font-size="10.62" fill="#1a1a1a">Cummulative Proportion of Correct</text>
<path d="M395.32,319.40 L395.68,318.09 L395.99,316.79 L396.27,315.51 L396.52,314.23 L396.76,312.96 L396.98,311.70 L397.20,310.44 L397.42,309.19 L397.64,307.94 L397.89,306.70 L398.15,305.45 L398.45,304.20 L398.78,302.95 L399.16,301.69 L399.59,300.43 L400.07,299.16 L400.62,297.88 L401.24,296.59 L401.93,295.35 L402.69,294.21 L403.51,293.22 L404.41,292.45 L405.37,291.94 L406.39,291.77 L407.47,291.96 L408.57,292.48 L409.63,293.24 L410.58,294.15 L411.41,295.16 L412.12,296.24 L412.74,297.39 L413.28,298.59 L413.76,299.83 L414.19,301.10 L414.59,302.38 L414.99,303.66 L415.37,304.94 L415.75,306.21 L416.12,307.49 L416.48,308.76 L416.84,310.03 L417.20,311.30 L417.55,312.57 L417.89,313.84 L418.23,315.10 L418.58,316.36 L418.91,317.62 L419.25,318.88 L419.58,320.14 L419.92,321.39 L420.25,322.65 L420.59,323.90 L420.92,325.15 L421.26,326.40 L421.60,327.65 L421.94,328.89 L422.29,330.14 L422.63,331.38 L422.99,332.62 L423.34,333.86 L423.70,335.10 L424.06,336.34 L424.43,337.58 L424.79,338.82 L425.16,340.05 L425.54,341.29 L425.91,342.52 L426.29,343.76 L426.67,345.00 L427.05,346.23 L427.43,347.47 L427.82,348.71 L428.20,349.94 L428.59,351.18 L428.98,352.42 L429.37,353.66 L429.76,354.90 L430.15,356.15 L430.55,357.39 L430.94,358.64 L431.33,359.88 L431.73,361.13 L432.12,362.39 L432.52,363.64 L432.91,364.90 L433.30,366.15 L433.70,367.42 L434.09,368.68 L434.49,369.95 L434.88,371.21 L435.28,372.48 L435.68,373.75 L436.10,375.00 L436.53,376.26 L436.97,377.50 L437.43,378.73 L437.91,379.94 L438.42,381.14 L438.95,382.33 L439.52,383.49 L440.11,384.62 L440.74,385.74 L441.41,386.82 L442.12,387.88 L442.87,388.90 L443.67,389.89 L444.52,390.84 L445.42,391.76 L446.38,392.62 L447.39,393.37 L448.46,393.95 L449.58,394.27 L450.76,394.28 L451.98,393.98 L453.22,393.43 L454.45,392.69 L455.64,391.83 L456.78,390.90 L457.83,389.96 L458.80,389.01 L459.70,388.05 L460.53,387.08 L461.31,386.11 L462.03,385.12 L462.71,384.13 L463.36,383.12 L463.97,382.10 L464.56,381.07 L465.14,380.02 L465.71,378.96 L466.28,377.88 L466.84,376.78 L467.40,375.67 L467.96,374.55 L468.52,373.41 L469.08,372.26 L469.63,371.10 L470.18,369.93 L470.72,368.75 L471.26,367.56 L471.80,366.36 L472.33,365.16 L472.86,363.95 L473.39,362.74 L473.91,361.52 L474.42,360.30 L474.93,359.07 L475.44,357.85 L475.94,356.62 L476.43,355.39 L476.92,354.17 L477.40,352.95 L477.87,351.73 L478.34,350.51 L478.80,349.30 L479.26,348.09 L479.70,346.88 L480.15,345.68 L480.59,344.48 L481.03,343.29 L481.46,342.10 L481.90,340.91 L482.33,339.72 L482.76,338.53 L483.19,337.34 L483.62,336.16 L484.06,334.97 L484.49,333.79 L484.93,332.60 L485.38,331.42 L485.83,330.23 L486.28,329.04 L486.74,327.85 L487.21,326.66 L487.68,325.46 L488.16,324.27 L488.65,323.07 L489.15,321.86 L489.66,320.66 L490.19,319.45 L490.72,318.23 L491.27,317.01 L491.82,315.78 L492.40,314.55 L492.98,313.32 L493.59,312.07 L494.21,310.83 L494.84,309.57 L495.49,308.32 L496.17,307.08 L496.86,305.86 L497.58,304.66 L498.31,303.50 L499.08,302.38 L499.87,301.31 L500.68,300.30 L501.53,299.35 L502.40,298.48 L503.31,297.70 L504.24,297.00 L505.22,296.40 L506.22,295.90 L507.26,295.52 L508.34,295.26 L509.46,295.14 L510.62,295.15 L511.82,295.29 L513.04,295.57 L514.29,295.95 L515.55,296.43 L516.81,296.99 L518.06,297.63 L519.31,298.31 L520.53,299.04 L521.72,299.80 L522.87,300.57 L523.98,301.36 L525.06,302.15 L526.11,302.96 L527.13,303.77 L528.13,304.60 L529.11,305.44 L530.07,306.29 L531.03,307.15 L531.97,308.03 L532.91,308.91 L533.83,309.80 L534.75,310.70 L535.66,311.62 L536.56,312.54 L537.45,313.47 L538.34,314.40 L539.22,315.35 L540.09,316.30 L540.95,317.26 L541.81,318.23 L542.67,319.20 L543.52,320.18 L544.36,321.16 L545.20,322.15 L546.04,323.15 L546.87,324.15 L547.69,325.15 L548.52,326.16 L549.34,327.17 L550.16,328.18 L550.97,329.20 L551.79,330.22 L552.60,331.24 L553.41,332.27 L554.22,333.29 L555.03,334.32 L555.84,335.34 L556.65,336.37 L557.46,337.39 L558.26,338.42 L559.08,339.45 L559.89,340.47 L560.70,341.49 L561.52,342.51 L562.34,343.53 L563.16,344.55 L563.98,345.56 L564.81,346.57 L565.64,347.57 L566.47,348.57 L567.31,349.57 L568.16,350.56 L569.01,351.55 L569.86,352.53 L570.72,353.51 L571.59,354.48 L572.46,355.44 L573.34,356.40 L574.23,357.35 L575.12,358.29 L576.02,359.22 L576.93,360.15 L577.85,361.06 L578.78,361.97 L579.71,362.87 L580.66,363.75 L581.61,364.63 L582.57,365.50 L583.55,366.35 L584.53,367.20 L585.53,368.03 L586.53,368.86 L587.54,369.68 L588.55,370.50 L589.57,371.31 L590.59,372.12 L591.60,372.93 L592.62,373.74 L593.63,374.56 L594.64,375.38 L595.64,376.20 L596.64,377.04 L597.62,377.88 L598.60,378.74 L599.56,379.60 L600.51,380.48 L601.44,381.38 L602.36,382.30 L603.25,383.23 L604.14,384.18 L605.00,385.14 L605.85,386.13 L606.68,387.12 L607.50,388.13 L608.30,389.16 L609.09,390.20 L609.87,391.25 L610.63,392.31 L611.37,393.38 L612.11,394.46 L612.83,395.55 L613.54,396.65 L614.24,397.76 L614.92,398.87 L615.60,399.99 L616.27,401.11 L616.92,402.24 L617.57,403.38 L618.21,404.51 L618.83,405.66 L619.45,406.80 L620.07,407.95 L620.67,409.11 L621.27,410.26 L621.86,411.42 L622.44,412.59 L623.02,413.75 L623.60,414.92 L624.16,416.09 L624.73,417.26 L625.29,418.44 L625.85,419.62 L626.40,420.79 L626.95,421.97 L627.50,423.15 L628.04,424.34 L628.58,425.52 L629.13,426.70 L629.67,427.89 L630.21,429.07 L630.75,430.25 L631.29,431.44 L631.84,432.62 L632.38,433.80 L632.93,434.99 L633.47,436.17 L634.02,437.35 L634.58,438.53 L635.13,439.71 L635.69,440.88 L636.26,442.06 L636.83,443.23 L637.40,444.40" fill="none" stroke="#2e2e2e" stroke-width="1.05" stroke-linejoin="round"/>
<path d="M400.10,440.20 L405.00,443.00 L410.80,445.50 L418.00,445.20 L425.70,444.90 L432.00,445.50 L438.50,446.10 L443.00,446.00 L447.10,445.90 L451.00,444.80 L455.60,443.80 L462.00,442.80 L468.50,441.90 L474.00,440.50 L479.10,439.10 L484.50,437.70 L489.80,436.30 L494.00,434.60 L498.40,432.70 L502.50,430.50 L506.90,428.40 L512.00,427.50 L518.00,426.70 L524.00,425.70 L530.00,424.80 L535.00,425.60 L540.60,426.30 L546.00,426.50 L551.30,426.70 L558.00,425.60 L562.00,425.00 L569.10,423.60 L579.10,424.10 L590.30,424.80 L602.00,424.90 L613.90,424.80 L626.10,424.30 L636.30,423.60" stroke-linejoin="round" fill="none" stroke="#333" stroke-width="0.95" stroke-dasharray="5.2 2.2 1 2.2"/>
<line x1="383.4" y1="435.9" x2="649.6" y2="435.9" stroke="#9a9a9a" stroke-width="1.8" stroke-dasharray="3.4 3.55"/>
<line x1="440.4" y1="493.0" x2="440.4" y2="282.5" stroke="#333" stroke-width="0.9" stroke-dasharray="1 2.5"/>
<line x1="447.3" y1="493.0" x2="447.3" y2="282.5" stroke="#2a2a2a" stroke-width="1.05" stroke-dasharray="6 2.7"/>
<line x1="383.5" y1="282" x2="383.5" y2="494" stroke="#8a8a8a" stroke-width="1"/>
<line x1="383" y1="282.5" x2="650" y2="282.5" stroke="#8c8c8c" stroke-width="1"/>
<line x1="649.5" y1="282" x2="649.5" y2="494" stroke="#999999" stroke-width="1"/>
<line x1="383" y1="493.5" x2="650" y2="493.5" stroke="#8a8a8a" stroke-width="1"/>
<line x1="393.9" y1="493.0" x2="393.9" y2="495.8" stroke="#3a3a3a" stroke-width="0.95"/>
<text transform="translate(393.9,504.80) scale(1,1.04)" text-anchor="middle" font-size="8.3" fill="#4d4d4d">0</text>
<line x1="453.0" y1="493.0" x2="453.0" y2="495.8" stroke="#3a3a3a" stroke-width="0.95"/>
<text transform="translate(453.0,504.80) scale(1,1.04)" text-anchor="middle" font-size="8.3" fill="#4d4d4d">10</text>
<line x1="512.2" y1="493.0" x2="512.2" y2="495.8" stroke="#3a3a3a" stroke-width="0.95"/>
<text transform="translate(512.2,504.80) scale(1,1.04)" text-anchor="middle" font-size="8.3" fill="#4d4d4d">20</text>
<line x1="571.1" y1="493.0" x2="571.1" y2="495.8" stroke="#3a3a3a" stroke-width="0.95"/>
<text transform="translate(571.1,504.80) scale(1,1.04)" text-anchor="middle" font-size="8.3" fill="#4d4d4d">30</text>
<line x1="630.4" y1="493.0" x2="630.4" y2="495.8" stroke="#3a3a3a" stroke-width="0.95"/>
<text transform="translate(630.4,504.80) scale(1,1.04)" text-anchor="middle" font-size="8.3" fill="#4d4d4d">40</text>
<line x1="380.59999999999997" y1="483.8" x2="383.4" y2="483.8" stroke="#3a3a3a" stroke-width="0.95"/>
<text transform="translate(378.20,487.15) scale(1,1.06)" text-anchor="end" font-size="8.3" fill="#4d4d4d">0.00</text>
<line x1="380.59999999999997" y1="423.5" x2="383.4" y2="423.5" stroke="#3a3a3a" stroke-width="0.95"/>
<text transform="translate(378.20,426.85) scale(1,1.06)" text-anchor="end" font-size="8.3" fill="#4d4d4d">0.01</text>
<line x1="380.59999999999997" y1="362.9" x2="383.4" y2="362.9" stroke="#3a3a3a" stroke-width="0.95"/>
<text transform="translate(378.20,366.25) scale(1,1.06)" text-anchor="end" font-size="8.3" fill="#4d4d4d">0.02</text>
<line x1="380.59999999999997" y1="302.4" x2="383.4" y2="302.4" stroke="#3a3a3a" stroke-width="0.95"/>
<text transform="translate(378.20,305.75) scale(1,1.06)" text-anchor="end" font-size="8.3" fill="#4d4d4d">0.03</text>
<line x1="649.6" y1="483.50" x2="652.4" y2="483.50" stroke="#3a3a3a" stroke-width="0.95"/>
<text transform="translate(654.80,487.35) scale(1,1.06)" font-size="8.3" fill="#4d4d4d">0.0</text>
<line x1="649.6" y1="464.32" x2="652.4" y2="464.32" stroke="#3a3a3a" stroke-width="0.95"/>
<text transform="translate(654.80,468.17) scale(1,1.06)" font-size="8.3" fill="#4d4d4d">0.1</text>
<line x1="649.6" y1="445.14" x2="652.4" y2="445.14" stroke="#3a3a3a" stroke-width="0.95"/>
<text transform="translate(654.80,448.99) scale(1,1.06)" font-size="8.3" fill="#4d4d4d">0.2</text>
<line x1="649.6" y1="425.96" x2="652.4" y2="425.96" stroke="#3a3a3a" stroke-width="0.95"/>
<text transform="translate(654.80,429.81) scale(1,1.06)" font-size="8.3" fill="#4d4d4d">0.3</text>
<line x1="649.6" y1="406.78" x2="652.4" y2="406.78" stroke="#3a3a3a" stroke-width="0.95"/>
<text transform="translate(654.80,410.63) scale(1,1.06)" font-size="8.3" fill="#4d4d4d">0.4</text>
<line x1="649.6" y1="387.60" x2="652.4" y2="387.60" stroke="#3a3a3a" stroke-width="0.95"/>
<text transform="translate(654.80,391.45) scale(1,1.06)" font-size="8.3" fill="#4d4d4d">0.5</text>
<line x1="649.6" y1="368.42" x2="652.4" y2="368.42" stroke="#3a3a3a" stroke-width="0.95"/>
<text transform="translate(654.80,372.27) scale(1,1.06)" font-size="8.3" fill="#4d4d4d">0.6</text>
<line x1="649.6" y1="349.24" x2="652.4" y2="349.24" stroke="#3a3a3a" stroke-width="0.95"/>
<text transform="translate(654.80,353.09) scale(1,1.06)" font-size="8.3" fill="#4d4d4d">0.7</text>
<line x1="649.6" y1="330.06" x2="652.4" y2="330.06" stroke="#3a3a3a" stroke-width="0.95"/>
<text transform="translate(654.80,333.91) scale(1,1.06)" font-size="8.3" fill="#4d4d4d">0.8</text>
<line x1="649.6" y1="310.88" x2="652.4" y2="310.88" stroke="#3a3a3a" stroke-width="0.95"/>
<text transform="translate(654.80,314.73) scale(1,1.06)" font-size="8.3" fill="#4d4d4d">0.9</text>
<line x1="649.6" y1="291.70" x2="652.4" y2="291.70" stroke="#3a3a3a" stroke-width="0.95"/>
<text transform="translate(654.80,295.55) scale(1,1.06)" font-size="8.3" fill="#4d4d4d">1.0</text>
<text x="516.50" y="274.40" text-anchor="middle" font-size="12.75" font-weight="bold" fill="#000">Item 24</text>
<text x="516.50" y="516.80" text-anchor="middle" font-size="10.4" fill="#1a1a1a">RT</text>
<text transform="translate(356.70,387.75) rotate(-90)" text-anchor="middle" font-size="10.4" fill="#1a1a1a">Density</text>
<text transform="translate(675.40,387.75) rotate(90)" text-anchor="middle" font-size="10.62" fill="#1a1a1a">Cummulative Proportion of Correct</text>
<text x="267.6" y="542.3" font-size="10.4" fill="#1a1a1a">Thresholds</text>
<line x1="332.6" y1="546.5" x2="332.6" y2="531.3" stroke="#2a2a2a" stroke-width="1.05" stroke-dasharray="6 2.7"/>
<text x="346.2" y="541.8" font-size="8.3" fill="#1a1a1a">CUMP</text>
<line x1="385.5" y1="547" x2="385.5" y2="531.3" stroke="#333" stroke-width="0.9" stroke-dasharray="1 2.5"/>
<text x="398.7" y="541.8" font-size="8.3" fill="#1a1a1a">NT30</text>
</svg>
</body></html>
